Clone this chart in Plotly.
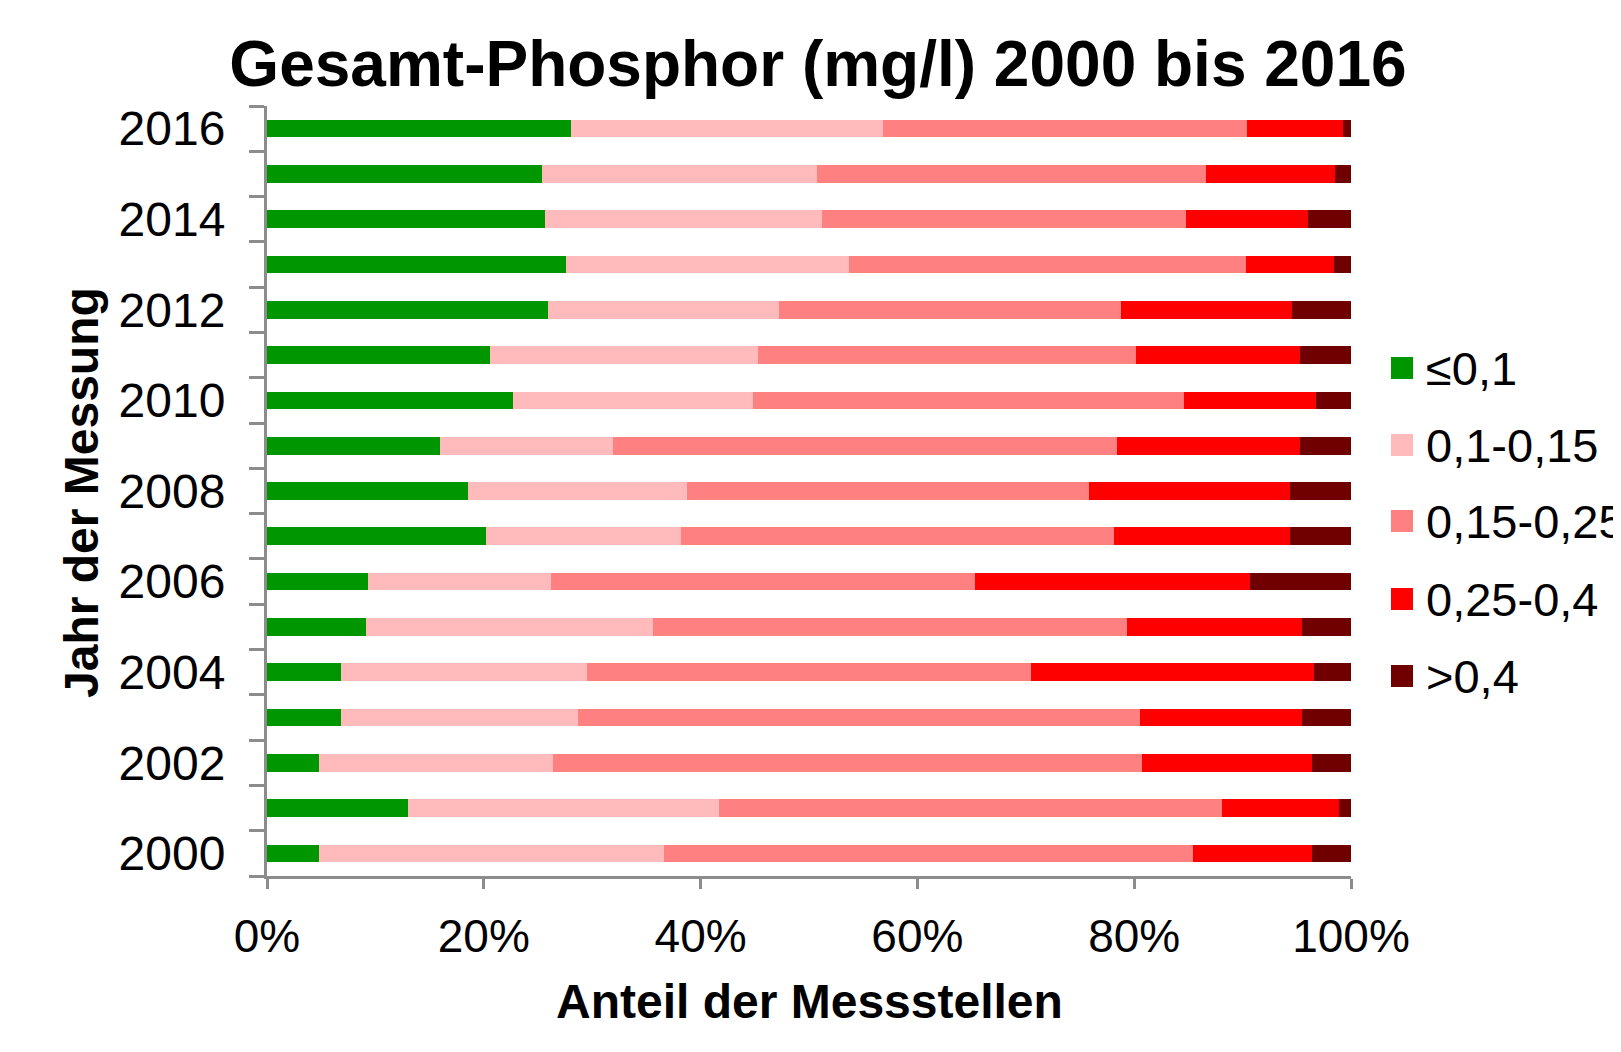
import plotly.graph_objects as go

years = list(range(2000, 2017))
series_names = ["≤0,1", "0,1-0,15", "0,15-0,25", "0,25-0,4", ">0,4"]
le_01 = [4.8, 13.0, 4.8, 6.8, 6.8, 9.1, 9.3, 20.2, 18.5, 16.0, 22.7, 20.6, 25.9, 27.6, 25.6, 25.4, 28.0]
p01_015 = [31.8, 28.7, 21.6, 21.9, 22.7, 26.5, 16.9, 18.0, 20.2, 15.9, 22.1, 24.7, 21.3, 26.1, 25.6, 25.3, 28.8]
p015_025 = [48.8, 46.4, 54.3, 51.8, 41.0, 43.7, 39.1, 39.9, 37.1, 46.5, 39.8, 34.9, 31.6, 36.6, 33.6, 35.9, 33.6]
p025_04 = [11.0, 10.8, 15.7, 15.0, 26.1, 16.2, 25.4, 16.3, 18.6, 16.9, 12.2, 15.1, 15.8, 8.1, 11.2, 11.9, 8.9]
gt04 = [3.6, 1.1, 3.6, 4.5, 3.4, 4.5, 9.3, 5.6, 5.6, 4.7, 3.2, 4.7, 5.4, 1.6, 4.0, 1.5, 0.7]
year_tick_vals = [2000, 2002, 2004, 2006, 2008, 2010, 2012, 2014, 2016]
x_tick_vals = [0, 20, 40, 60, 80, 100]
x_tick_text = ["0%", "20%", "40%", "60%", "80%", "100%"]

colors = ["#009600", "#FFBBBB", "#FF8080", "#FF0000", "#700000"]
series = [le_01, p01_015, p015_025, p025_04, gt04]

FONT = "Liberation Sans, Arial, sans-serif"
W, H = 1621, 1052
OFF = 8  # page body margin
L, R, T, B = 267 - OFF, 1351 - OFF, 106 - OFF, 876 - OFF

fig = go.Figure()
for name, vals, col in zip(series_names, series, colors):
    fig.add_trace(go.Bar(
        y=years, x=vals, name=name, orientation="h",
        marker=dict(color=col, line=dict(width=0)),
        width=0.39, showlegend=False,
    ))

def px_x(px):
    return (px - OFF - L) / (R - L)

def px_y(py):
    return (B - (py - OFF)) / (B - T)

shapes = []
annotations = []
leg_y = [368, 445, 521, 599, 676]
for name, col, cy in zip(series_names, colors, leg_y):
    shapes.append(dict(type="rect", xref="paper", yref="paper",
                       x0=px_x(1391), x1=px_x(1413), y0=px_y(cy + 11), y1=px_y(cy - 11),
                       fillcolor=col, line=dict(width=0)))
    annotations.append(dict(text=name, xref="paper", yref="paper", x=px_x(1424), y=px_y(cy),
                            xanchor="left", yanchor="middle", showarrow=False,
                            font=dict(family=FONT, size=47, color="black")))

annotations.append(dict(text="<b>Anteil der Messstellen</b>", xref="paper", yref="paper",
                        x=0.5, y=px_y(1001), xanchor="center", yanchor="middle", showarrow=False,
                        font=dict(family=FONT, size=48, color="black")))
annotations.append(dict(text="<b>Jahr der Messung</b>", xref="paper", yref="paper",
                        x=px_x(81), y=px_y(493), xanchor="center", yanchor="middle", showarrow=False,
                        textangle=-90, font=dict(family=FONT, size=48, color="black")))

fig.update_layout(
    width=W, height=H,
    margin=dict(l=L, r=W - R, t=T, b=H - B, autoexpand=False),
    paper_bgcolor="white", plot_bgcolor="white",
    barmode="stack",
    showlegend=False,
    title=dict(text="<b>Gesamt-Phosphor (mg/l) 2000 bis 2016</b>", x=(818 - OFF) / W,
               y=1 - (64 - OFF) / H, xanchor="center", yanchor="middle",
               font=dict(family=FONT, size=64, color="black")),
    shapes=shapes,
    annotations=annotations,
    xaxis=dict(range=[0, 100], tickvals=x_tick_vals, ticktext=x_tick_text,
               showgrid=False, zeroline=False, showline=True, linecolor="#8C8C8C", linewidth=3,
               ticks="outside", ticklen=10, tickwidth=3, tickcolor="#8C8C8C",
               ticklabelstandoff=8,
               tickfont=dict(family=FONT, size=46, color="black"), fixedrange=True),
    yaxis=dict(range=[1999.5, 2016.5], tickvals=year_tick_vals,
               showgrid=False, zeroline=False, showline=True, linecolor="#8C8C8C", linewidth=3,
               ticks="", ticklabelstandoff=29,
               minor=dict(tick0=1999.5, dtick=1, ticks="outside", ticklen=15, tickwidth=3,
                          tickcolor="#8C8C8C", showgrid=False),
               tickfont=dict(family=FONT, size=48, color="black"), fixedrange=True),
    font=dict(family=FONT, color="black"),
)

fig.write_html("out.html")
